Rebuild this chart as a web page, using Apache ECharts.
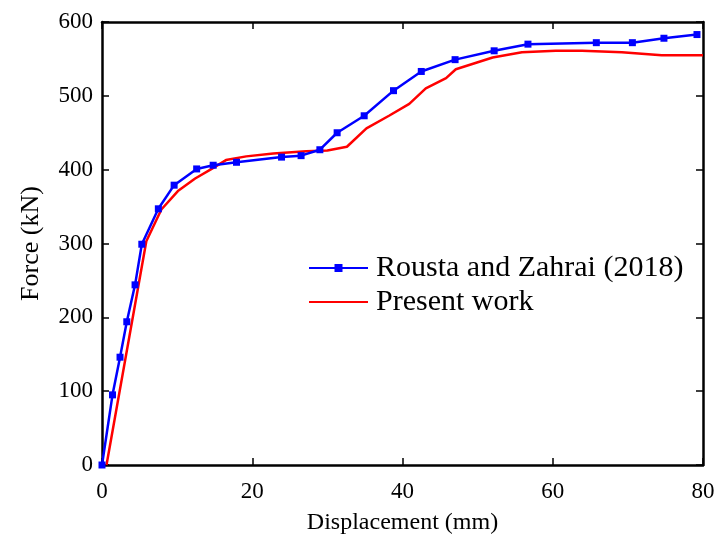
<!DOCTYPE html>
<html>
<head>
<meta charset="utf-8">
<script src="https://cdn.jsdelivr.net/npm/echarts@6/dist/echarts.min.js"></script>
<style>html,body{margin:0;padding:0;background:#fff}#c{width:718px;height:536px}</style>
</head>
<body>
<div id="c"></div>
<script>
var xTicks = [0, 20, 40, 60, 80];
var yTicks = [0, 100, 200, 300, 400, 500, 600];
var seriesNames = ['Rousta and Zahrai (2018)', 'Present work'];
var roustaX = [0, 1.4, 2.4, 3.3, 4.4, 5.3, 7.5, 9.6, 12.6, 14.8, 17.9, 23.9, 26.5, 29.0, 31.3, 34.9, 38.8, 42.5, 47.0, 52.2, 56.7, 65.8, 70.6, 74.8, 79.2];
var roustaY = [0, 95, 146, 194, 244, 299, 347, 379, 401, 406, 410, 417, 419, 427, 450, 473, 507, 533, 549, 561, 570, 572, 572, 578, 583];
var presentX = [0.6, 5.9, 7.9, 10.1, 12.4, 14.6, 16.5, 19.2, 22.8, 27.2, 30.0, 32.6, 35.2, 38.2, 40.9, 43.1, 45.8, 47.1, 52.0, 55.9, 60.4, 63.9, 69.2, 74.5, 80];
var presentY = [0, 303, 346, 371, 388, 401, 413, 418, 422, 425, 426, 431, 456, 473, 489, 510, 524, 536, 552, 559, 561, 561, 559, 555, 555];

function pairs(xs, ys) { return xs.map(function (x, i) { return [x, ys[i]]; }); }

var FONT = 'Liberation Serif';
var axisLine = { show: true, onZero: false, lineStyle: { color: '#000', width: 2.5 } };
var tick = { show: true, inside: true, length: 7, lineStyle: { color: '#000', width: 1.5 } };

var chart = echarts.init(document.getElementById('c'), null, { renderer: 'canvas' });
chart.setOption({
  animation: false,
  backgroundColor: '#fff',
  grid: { left: 102, right: 15, top: 22, bottom: 71, containLabel: false, outerBoundsMode: 'none' },
  legend: {
    data: [
      { name: seriesNames[0] },
      { name: seriesNames[1], itemStyle: { opacity: 0 } }
    ],
    orient: 'vertical',
    left: 303,
    top: 248,
    itemWidth: 59,
    itemHeight: 10,
    itemGap: 4,
    textStyle: { fontFamily: FONT, fontSize: 30, color: '#000', lineHeight: 30, padding: [0, 0, 0, 3] }
  },
  xAxis: [{
    type: 'value', position: 'bottom', min: xTicks[0], max: xTicks[xTicks.length - 1], interval: 20,
    name: 'Displacement (mm)', nameLocation: 'middle', nameGap: 46,
    nameTextStyle: { fontFamily: FONT, fontSize: 24, color: '#000' },
    axisLine: axisLine, axisTick: tick, splitLine: { show: false },
    axisLabel: { fontFamily: FONT, fontSize: 23, color: '#000', margin: 15 }
  }, {
    type: 'value', position: 'top', min: xTicks[0], max: xTicks[xTicks.length - 1], interval: 20,
    axisLine: axisLine, axisTick: tick, splitLine: { show: false }, axisLabel: { show: false }
  }],
  yAxis: [{
    type: 'value', position: 'left', min: yTicks[0], max: yTicks[yTicks.length - 1], interval: 100,
    name: 'Force (kN)', nameLocation: 'middle', nameGap: 58,
    nameTextStyle: { fontFamily: FONT, fontSize: 26, color: '#000' },
    axisLine: axisLine, axisTick: tick, splitLine: { show: false },
    axisLabel: { fontFamily: FONT, fontSize: 23, color: '#000', margin: 9 }
  }, {
    type: 'value', position: 'right', min: yTicks[0], max: yTicks[yTicks.length - 1], interval: 100,
    axisLine: axisLine, axisTick: tick, splitLine: { show: false }, axisLabel: { show: false }
  }],
  series: [{
    name: seriesNames[0], type: 'line', data: pairs(roustaX, roustaY),
    symbol: 'rect', symbolSize: 7, showAllSymbol: true,
    lineStyle: { color: '#0000ff', width: 2.5 }, itemStyle: { color: '#0000ff' }, z: 3
  }, {
    name: seriesNames[1], type: 'line', data: pairs(presentX, presentY),
    symbol: 'none', showSymbol: false,
    lineStyle: { color: '#ff0000', width: 2.5 }, itemStyle: { color: '#ff0000' }, z: 2
  }]
});
</script>
</body>
</html>
